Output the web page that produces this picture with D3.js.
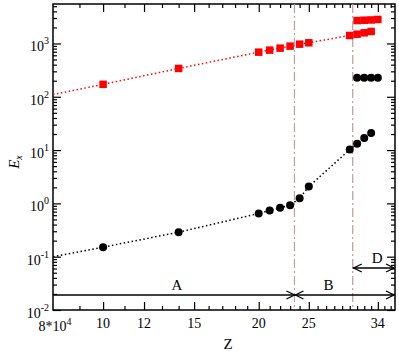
<!DOCTYPE html>
<html><head><meta charset="utf-8">
<script src="https://cdn.jsdelivr.net/npm/d3@7"></script>
<style>body{margin:0;background:#fff}svg{display:block}</style>
</head><body><div id="c"></div>
<script>
// ---- data (Z in units of 10^4) ----
const redX = [10, 14, 20, 21, 22, 23, 24, 25, 30, 31, 32, 33];
const redY = [171, 340, 687, 750, 817, 891, 970, 1030, 1413, 1493, 1585, 1678];
const redUpperX = [31, 32, 33, 34];
const redUpperY = [2692, 2730, 2760, 2820];
const blackX = [10, 14, 20, 21, 22, 23, 24, 25, 30, 31, 32, 33];
const blackY = [0.151, 0.288, 0.647, 0.736, 0.824, 0.925, 1.25, 2.07, 10.2, 13.2, 16.9, 20.9];
const blackUpperX = [31, 32, 33, 34];
const blackUpperY = [228, 228, 228, 228];
// dotted guide lines start at the left edge
const lineStartX = 8;
const redLineStartY = 110;
const blackLineStartY = 0.1;
const xMajor = [10, 12, 15, 20, 25, 34];
const xMinor = [9, 11, 13, 14, 16, 17, 18, 19, 21, 22, 23, 24, 26, 27, 28, 29, 30, 31, 32, 33, 35, 36];
const yExp = [-2, -1, 0, 1, 2, 3];
const regionLines = [23.45, 30.4];
const regionLabels = ["A", "B", "D"];
const regionFrom = [8, 23.45, 30.4];
const regionTo = [23.45, 36.7, 36.7];
const regionLevel = [0.0191, 0.0191, 0.0614];
const regionLabelX = [13.9, 27.3, 33.9];
const regionLeftHead = [false, true, true];

const FONT = "'Liberation Serif','Times New Roman',Times,'DejaVu Serif',serif";
const W = 399, H = 351;
const L = 53, R = 395, T = 4, B = 310;
const svg = d3.select("#c").append("svg").attr("width", W).attr("height", H).attr("font-family", FONT);
svg.append("rect").attr("width", W).attr("height", H).attr("fill", "#fff");

const x = d3.scaleLog().domain([8, 36.7]).range([L, R]);
const y = d3.scaleLog().domain([0.01, 5500]).range([B, T]);

const yMinor = [];
for (let e = -2; e <= 3; e++) for (let k = 2; k <= 9; k++) { const v = k * Math.pow(10, e); if (v <= 5500) yMinor.push(v); }
const yMajorVals = yExp.map(e => Math.pow(10, e));

function styleAxis(g) { g.select(".domain").remove(); g.selectAll("line").attr("stroke", "#000").attr("stroke-width", 1.2); g.selectAll("text").remove(); }

svg.append("g").attr("transform", `translate(0,${B})`).call(d3.axisBottom(x).tickValues(xMajor).tickSize(-8)).call(styleAxis);
svg.append("g").attr("transform", `translate(0,${B})`).call(d3.axisBottom(x).tickValues(xMinor).tickSize(-4)).call(styleAxis);
svg.append("g").attr("transform", `translate(0,${T})`).call(d3.axisTop(x).tickValues(xMajor).tickSize(-8)).call(styleAxis);
svg.append("g").attr("transform", `translate(0,${T})`).call(d3.axisTop(x).tickValues(xMinor).tickSize(-4)).call(styleAxis);
svg.append("g").attr("transform", `translate(${L},0)`).call(d3.axisLeft(y).tickValues(yMajorVals).tickSize(-8)).call(styleAxis);
svg.append("g").attr("transform", `translate(${L},0)`).call(d3.axisLeft(y).tickValues(yMinor).tickSize(-4)).call(styleAxis);
svg.append("g").attr("transform", `translate(${R},0)`).call(d3.axisRight(y).tickValues(yMajorVals).tickSize(-8)).call(styleAxis);
svg.append("g").attr("transform", `translate(${R},0)`).call(d3.axisRight(y).tickValues(yMinor).tickSize(-4)).call(styleAxis);

svg.append("rect").attr("x", L).attr("y", T).attr("width", R - L).attr("height", B - T)
  .attr("fill", "none").attr("stroke", "#000").attr("stroke-width", 1.5);

// x tick labels
svg.selectAll(".xl").data(xMajor).enter().append("text").attr("font-family", FONT)
  .attr("x", d => x(d)).attr("y", 328).attr("text-anchor", "middle").attr("font-size", 14).text(d => d);
const t8 = svg.append("text").attr("x", 55).attr("y", 331).attr("text-anchor", "middle").attr("font-size", 14).attr("font-family", FONT);
t8.append("tspan").text("8*10");
t8.append("tspan").attr("dy", -6).attr("font-size", 10).text("4");

// y tick labels
yExp.forEach(e => {
  const t = svg.append("text").attr("x", 49).attr("y", y(Math.pow(10, e)) + 8).attr("text-anchor", "end").attr("font-size", 14).attr("font-family", FONT);
  t.append("tspan").text("10");
  t.append("tspan").attr("dy", -7).attr("font-size", 10).text(e < 0 ? "-" + (-e) : e);
});

svg.append("text").attr("x", 228).attr("y", 349).attr("text-anchor", "middle").attr("font-size", 15).attr("font-family", FONT).text("Z");
const et = svg.append("text").attr("transform", "translate(19,162) rotate(-90)").attr("text-anchor", "middle").attr("font-size", 15).attr("font-family", FONT);
et.append("tspan").attr("font-style", "italic").text("E");
et.append("tspan").attr("font-style", "italic").attr("font-size", 10).attr("dy", 3).text("x");

// region vertical lines
svg.selectAll(".vl").data(regionLines).enter().append("line")
  .attr("x1", d => x(d)).attr("x2", d => x(d)).attr("y1", T).attr("y2", B)
  .attr("stroke", "#c49a9a").attr("stroke-width", 1.2).attr("stroke-dasharray", "9,3,2,3");

function head(px, py, dir) {
  svg.append("path").attr("d", `M${px - dir * 8},${py - 4}L${px},${py}L${px - dir * 8},${py + 4}`)
    .attr("fill", "none").attr("stroke", "#000").attr("stroke-width", 1.3);
}
regionLabels.forEach((lab, i) => {
  const x1 = x(regionFrom[i]), x2 = Math.min(x(regionTo[i]), R - 1), yy = y(regionLevel[i]);
  svg.append("line").attr("x1", x1).attr("x2", x2).attr("y1", yy).attr("y2", yy).attr("stroke", "#000").attr("stroke-width", 1.3);
  if (regionLeftHead[i]) head(x1 + 1, yy, -1);
  head(x2, yy, 1);
  svg.append("text").attr("x", x(regionLabelX[i])).attr("y", yy - 5).attr("text-anchor", "middle").attr("font-size", 15).attr("font-family", FONT).text(lab);
});

const line = d3.line().x(d => x(d[0])).y(d => y(d[1]));
const redLine = [[lineStartX, redLineStartY]].concat(redX.map((d, i) => [d, redY[i]]));
const blackLine = [[lineStartX, blackLineStartY]].concat(blackX.map((d, i) => [d, blackY[i]]));
svg.append("path").attr("d", line(redLine)).attr("fill", "none").attr("stroke", "#ff0000").attr("stroke-width", 1.5).attr("stroke-dasharray", "1.5,2.5");
svg.append("path").attr("d", line(blackLine)).attr("fill", "none").attr("stroke", "#000").attr("stroke-width", 1.5).attr("stroke-dasharray", "1.5,2.5");

const sq = 7.5;
const redPts = redX.map((d, i) => [d, redY[i]]).concat(redUpperX.map((d, i) => [d, redUpperY[i]]));
svg.selectAll(".rs").data(redPts).enter().append("rect")
  .attr("x", d => x(d[0]) - sq / 2).attr("y", d => y(d[1]) - sq / 2).attr("width", sq).attr("height", sq).attr("fill", "#ff0000");
const blackPts = blackX.map((d, i) => [d, blackY[i]]).concat(blackUpperX.map((d, i) => [d, blackUpperY[i]]));
svg.selectAll(".bc").data(blackPts).enter().append("circle")
  .attr("cx", d => x(d[0])).attr("cy", d => y(d[1])).attr("r", 4).attr("fill", "#000");
</script></body></html>
